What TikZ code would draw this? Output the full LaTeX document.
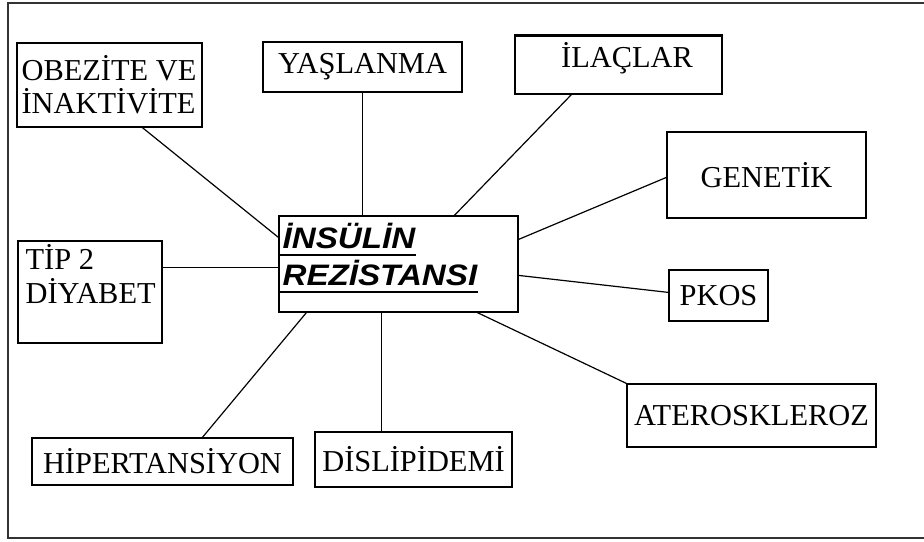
\documentclass[tikz,border=0pt]{standalone}
\usepackage{fontspec}
\setmainfont{Liberation Serif}
\newfontfamily\keysans[FakeStretch=1.12]{Liberation Sans}
\usetikzlibrary{calc}

\begin{document}
\begin{tikzpicture}[x=0.5pt, y=-0.5pt, line width=0.6pt, every node/.style={font=\fontsize{15.2}{16.5}\selectfont}, box/.style={draw, rectangle, inner sep=0pt}, lbl/.style={inner sep=0pt, align=left}, key/.style={inner sep=0pt, anchor=base west, font=\keysans\bfseries\itshape\fontsize{14.8}{18.5}\selectfont}]
	\useasboundingbox (0,0) rectangle (924,541);
	\draw[line width=1pt, black!80] (924,3) -- (8,3) -- (8,538) -- (924,538);
	% center
	\node[box, minimum width=119.5pt, minimum height=48pt] (ins) at (398.5,264) {};
	\node[key] (ins-a) at (282,248) {İNSÜLİN};
	\node[key] (ins-b) at (282,285) {REZİSTANSI};
	\draw[line width=0.75pt] ($(ins-a.base west)+(-2,7)$) -- ($(ins-a.base east)+(0,7)$);
	\draw[line width=0.75pt] ($(ins-b.base west)+(-2,7)$) -- ($(ins-b.base east)+(0,7)$);
	% boxes round it
	\node[box, minimum width=92.5pt, minimum height=42pt] (obez) at (109.5,85) {};
	\node[lbl, anchor=base west] (obez-t) at (21,113) {OBEZİTE VE\\İNAKTİVİTE};
	\node[box, minimum width=99.5pt, minimum height=25pt] (yas) at (362.5,67) {YAŞLANMA};
	\node[box, minimum width=103.5pt, minimum height=29pt] (ilac) at (618.5,65) {};
	\node[inner sep=0pt, anchor=base] (ilac-t) at (627,67) {İLAÇLAR};
	\draw[line width=1.6pt] (ilac.north west) -- (ilac.north east);
	\node[box, minimum width=99.5pt, minimum height=43pt] (gen) at (766.5,175) {GENETİK};
	\node[box, minimum width=72pt, minimum height=51pt] (tip) at (90,292) {};
	\node[lbl, anchor=base west, font=\fontsize{15.2}{17}\selectfont] (tip-t) at (25,303) {TİP 2\\DİYABET};
	\node[box, minimum width=49.5pt, minimum height=25.5pt] (pkos) at (718.5,295.5) {PKOS};
	\node[box, minimum width=124.5pt, minimum height=31.5pt] (ater) at (751.5,415.5) {ATEROSKLEROZ};
	\node[box, minimum width=130.5pt, minimum height=23.5pt] (hip) at (162.5,461.5) {HİPERTANSİYON};
	\node[box, minimum width=98.5pt, minimum height=27.5pt] (dis) at (413.5,459.5) {DİSLİPİDEMİ};
	% connectors
	\draw ($(obez.south west)+(126,0)$) -- ($(ins.north west)+(0,22)$);
	\draw ($(ins.north west)+(84,0)$) -- ($(yas.south west)+(100,0)$);
	\draw ($(ilac.south west)+(57,0)$) -- ($(ins.north west)+(176,0)$);
	\draw ($(gen.north west)+(0,46)$) -- ($(ins.north east)+(0,24)$);
	\draw ($(ins.north east)+(0,60)$) -- ($(pkos.north west)+(0,23)$);
	\draw ($(ins.south west)+(199,0)$) -- (ater.north west);
	\draw ($(ins.south west)+(103,0)$) -- ($(dis.north west)+(67,0)$);
	\draw ($(ins.south west)+(28,0)$) -- ($(hip.north west)+(171,0)$);
	\draw ($(tip.north east)+(0,27)$) -- ($(ins.north west)+(0,52)$);
\end{tikzpicture}
\end{document}
